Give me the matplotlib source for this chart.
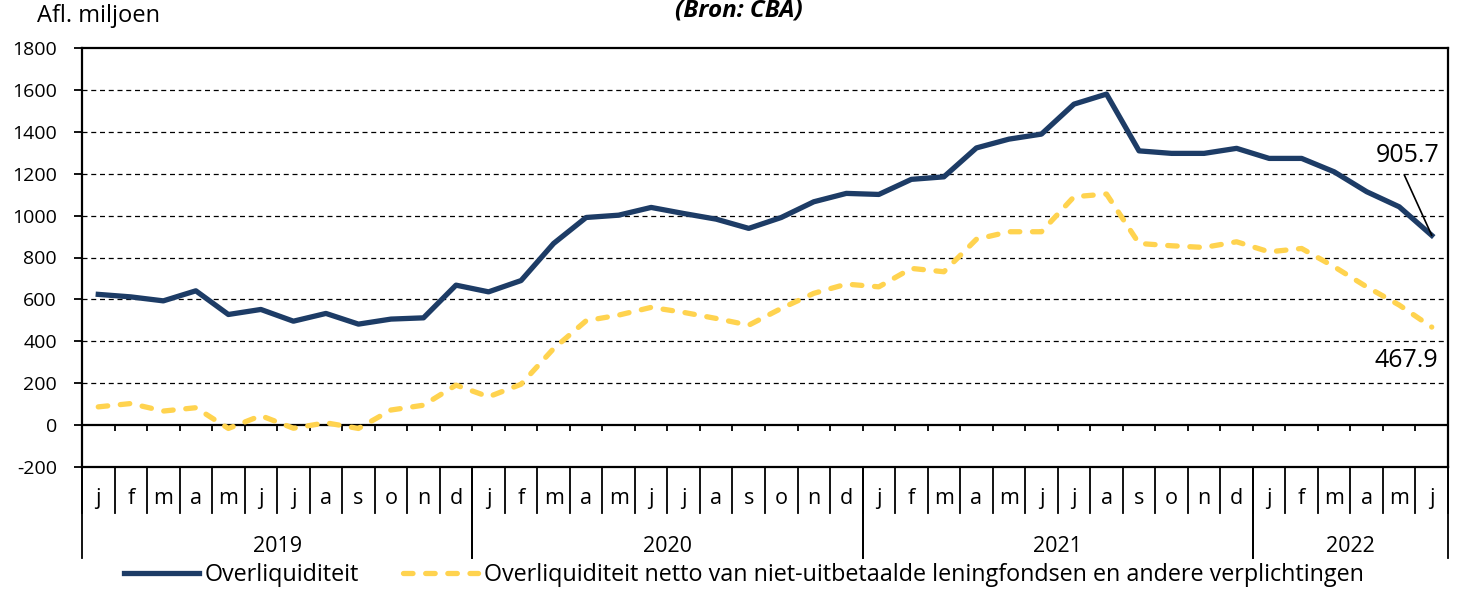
import numpy as np
import matplotlib
matplotlib.use("Agg")
import matplotlib.pyplot as plt
from matplotlib.lines import Line2D

plt.rcParams['font.family'] = ['Open Sans', 'DejaVu Sans']
plt.rcParams['axes.unicode_minus'] = False

months = ["j", "f", "m", "a", "m", "j", "j", "a", "s", "o", "n", "d"] * 3 + ["j", "f", "m", "a", "m", "j"]
years = ["2019", "2020", "2021", "2022"]
year_len = [12, 12, 12, 6]

overliq = [624, 612, 593, 641, 528, 552, 496, 533, 482, 506, 512, 668,
           636, 690, 867, 991, 1002, 1039, 1010, 983, 939, 991, 1066, 1106,
           1101, 1173, 1185, 1323, 1365, 1389, 1532, 1580, 1309, 1297, 1297, 1321,
           1273, 1273, 1209, 1114, 1042, 905.7]
netto = [87, 103, 67, 83, -16, 45, -15, 11, -16, 72, 95, 191,
         135, 195, 365, 498, 525, 562, 538, 509, 477, 557, 629, 673,
         660, 748, 732, 887, 923, 923, 1090, 1103, 867, 856, 848, 875,
         827, 843, 756, 660, 573, 467.9]

blue = "#1d3c66"
yellow = "#ffd34f"

W, H = 1460, 594
fig = plt.figure(figsize=(W / 100, H / 100), dpi=100)
ax = fig.add_axes([82 / W, 1 - 467 / H, (1448 - 82) / W, (467 - 48) / H])

x = np.arange(len(months))
ax.plot(x, overliq, color=blue, lw=3.8, zorder=3, label="Overliquiditeit")
ax.plot(x, netto, color=yellow, lw=3.8, dashes=(1.8, 2.4), dash_capstyle="round",
        zorder=3, label="Overliquiditeit netto van niet-uitbetaalde leningfondsen en andere verplichtingen")

ax.set_xlim(-0.5, len(months) - 0.5)
ax.set_ylim(-200, 1800)
ax.set_yticks(np.arange(-200, 1801, 200))
ax.tick_params(axis="y", labelsize=14, length=6, width=1.3, direction="out", pad=12)
ax.set_xticks([])
for s in ax.spines.values():
    s.set_linewidth(1.6)

for v in range(200, 1800, 200):
    ax.axhline(v, color="black", lw=0.9, ls=(0, (4, 3)), zorder=1)
ax.axhline(0, color="black", lw=1.6, zorder=2)
ax.vlines(np.arange(len(months) - 1) + 0.5, -28, 0, color="black", lw=1.3, zorder=2)

# category table under the plot
tr = ax.get_xaxis_transform()
for i, m in enumerate(months):
    ax.text(i, -0.074, m, transform=tr, ha="center", va="center", fontsize=15.5)
bounds = np.cumsum([0] + year_len) - 0.5
for b in np.arange(len(months) + 1) - 0.5:
    ax.add_line(Line2D([b, b], [0, -0.110], transform=tr, color="black", lw=1.3, clip_on=False))
for k, y in enumerate(years):
    b0, b1 = bounds[k], bounds[k + 1]
    for b in (b0, b1):
        ax.add_line(Line2D([b, b], [0, -0.217], transform=tr, color="black", lw=1.3, clip_on=False))
    ax.text((b0 + b1) / 2, -0.19, y, transform=tr, ha="center", va="center", fontsize=15.5)

# end-value labels
ax.annotate("905.7", xy=(x[-1], overliq[-1]), xytext=(40.26, 1285), ha="center", va="center",
            fontsize=18, arrowprops=dict(arrowstyle="-", color="black", lw=1.2,
                                         relpos=(0.4, 0), shrinkA=3, shrinkB=0))
ax.text(40.22, 310, "467.9", ha="center", va="center", fontsize=18)

fig.text(37 / W, 1 - 16 / H, "Afl. miljoen", ha="left", va="center", fontsize=17)
fig.text(739 / W, 1 - 11 / H, "(Bron: CBA)", ha="center", va="center", fontsize=17.5,
         fontweight="bold", fontstyle="italic")

fig.legend(loc="center", bbox_to_anchor=(744 / W, 1 - 575 / H), ncol=2, frameon=False,
           fontsize=16.8, handlelength=3.2, handletextpad=0.26, columnspacing=1.9,
           borderpad=0, borderaxespad=0)

fig.savefig("out.png", dpi=100)
